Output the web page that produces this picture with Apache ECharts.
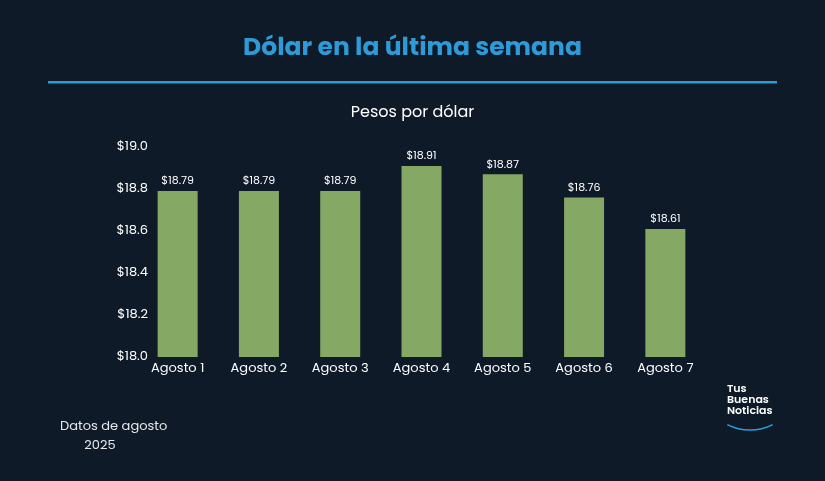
<!DOCTYPE html>
<html><head><meta charset="utf-8">
<script src="https://cdn.jsdelivr.net/npm/echarts@6/dist/echarts.min.js"></script>
<style>html,body{margin:0;padding:0;background:#0f1a29;}#c{width:825px;height:481px;}</style>
</head><body><div id="c"></div>
<script>
const categories = ['Agosto 1','Agosto 2','Agosto 3','Agosto 4','Agosto 5','Agosto 6','Agosto 7'];
const values = [18.79, 18.79, 18.79, 18.91, 18.87, 18.76, 18.61];
const chart = echarts.init(document.getElementById('c'));
const F = 'Poppins, "Noto Sans", sans-serif';
chart.setOption({
  backgroundColor: '#0f1a29',
  title: [
    {text: 'Dólar en la última semana', left: 'center', top: 31, textStyle: {color: '#2c9bd8', fontSize: 25, fontWeight: 'bold', fontFamily: F}},
    {text: 'Pesos por dólar', left: 'center', top: 100, textStyle: {color: '#ffffff', fontSize: 16, fontWeight: 'normal', fontFamily: F}}
  ],
  graphic: [
    {type: 'rect', shape: {x: 48, y: 81, width: 729, height: 2.5}, style: {fill: '#2c9bd8'}},
    {type: 'text', left: 60, top: 417, style: {text: 'Datos de agosto\n       2025', fill: '#e8e8e8', font: '13px ' + F, lineHeight: 19}},
    {type: 'text', left: 727, top: 384, style: {text: 'Tus\nBuenas\nNoticias', fill: '#ffffff', font: '600 11px ' + F, lineHeight: 11}},
    {type: 'arc', shape: {cx: 750, cy: 380, r: 50, startAngle: Math.PI*0.35, endAngle: Math.PI*0.65}, style: {stroke: '#2c9bd8', lineWidth: 1.5, fill: null}}
  ],
  grid: {left: 137, right: 119, top: 147, bottom: 124},
  xAxis: {type: 'category', data: categories,
    axisLine: {show: false}, axisTick: {show: false},
    axisLabel: {color: '#ffffff', fontSize: 13, fontFamily: F, margin: 5}},
  yAxis: {type: 'value', min: 18.0, max: 19.0, interval: 0.2,
    splitLine: {show: false},
    axisLabel: {color: '#ffffff', fontSize: 13, fontFamily: F, margin: -11, formatter: v => '$' + v.toFixed(1)}},
  series: [{type: 'bar', data: values, barWidth: 40, itemStyle: {color: '#86a865'},
    label: {show: true, position: 'top', color: '#ffffff', fontSize: 11, fontFamily: F, distance: 4, formatter: p => '$' + p.value.toFixed(2)}}]
});
</script></body></html>
